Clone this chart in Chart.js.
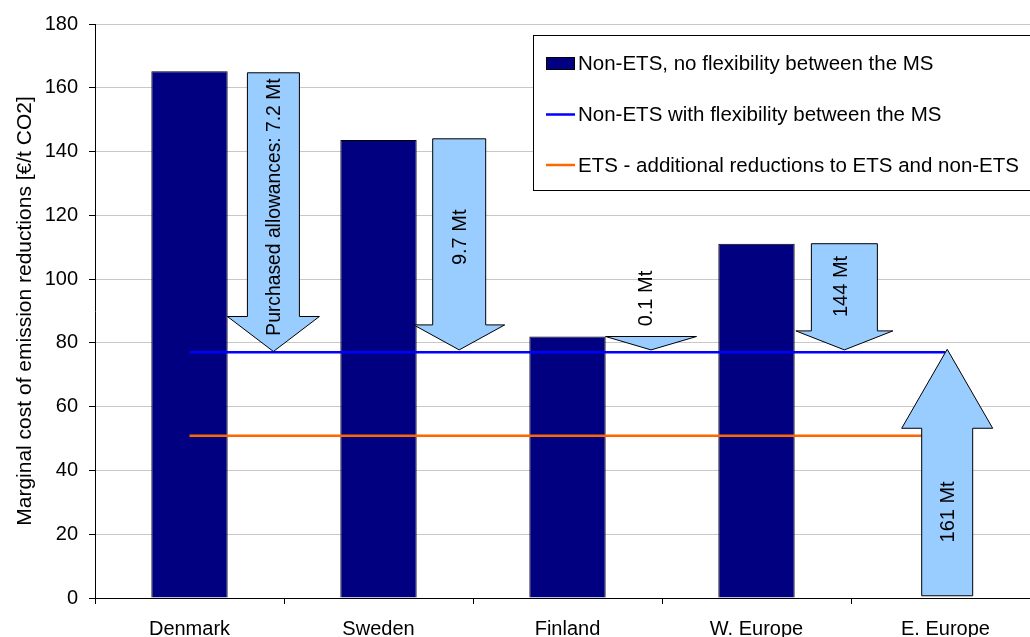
<!DOCTYPE html>
<html>
<head>
<meta charset="utf-8">
<script src="https://cdn.jsdelivr.net/npm/chart.js@4/dist/chart.umd.min.js"></script>
<style>
  html, body { margin: 0; padding: 0; background: #fff; overflow: hidden; }
  #wrap { position: relative; width: 1040px; height: 637px; }
</style>
</head>
<body>
<div id="wrap"><canvas id="c"></canvas></div>
<script>
// ---- data ----
const categories = ['Denmark', 'Sweden', 'Finland', 'W. Europe', 'E. Europe'];
const noFlexValues = [165.2, 143.6, 82.0, 111.1, null];
const flexValues = [77.1, 77.1, 77.1, 77.1, 77.1];
const etsValues = [50.9, 50.9, 50.9, 50.9, 50.9];
const yTicks = [0, 20, 40, 60, 80, 100, 120, 140, 160, 180];
const seriesLabels = [
  'Non-ETS, no flexibility between the MS',
  'Non-ETS with flexibility between the MS',
  'ETS - additional reductions to ETS and non-ETS'
];
// purchased allowances arrows: from value -> to value
const arrowLabels = ['Purchased allowances: 7.2 Mt', '9.7 Mt', '0.1 Mt', '144 Mt', '161 Mt'];
const arrowFrom = [164.7, 144.0, 82.0, 111.1, 0.7];
const arrowTo = [77.3, 77.8, 77.8, 77.8, 78.0];

// ---- layout / style for the arrows (not data) ----
const arrowStyle = {
  catOffset: [0.444, 0.427, 0.442, 0.465, 0.009],
  shaftW: [52, 53, 0, 66, 51],
  headW: [92, 91, 91, 97, 91],
  headL: [35, 25, 13, 19, 79],
  labelAt: [122.6, 113.1, 93.9, 97.7, 27.0],
  labelDx: [1, 1, -5, -3, 1],
  labelSize: [19.3, 20, 20, 20, 20]
};

const FONT = '"Liberation Sans", Arial, sans-serif';

const arrowsPlugin = {
  id: 'arrows',
  afterDatasetsDraw(chart) {
    const ctx = chart.ctx, x = chart.scales.x, y = chart.scales.y;
    const cw = x.getPixelForValue(1) - x.getPixelForValue(0);
    ctx.save();
    for (let i = 0; i < arrowLabels.length; i++) {
      const cx = x.getPixelForValue(i) + arrowStyle.catOffset[i] * cw;
      const y0 = y.getPixelForValue(arrowFrom[i]);
      const yt = y.getPixelForValue(arrowTo[i]);
      const dir = Math.sign(yt - y0);
      const sw = arrowStyle.shaftW[i] / 2, hw = arrowStyle.headW[i] / 2;
      let hb = yt - dir * arrowStyle.headL[i];
      ctx.beginPath();
      if (sw > 0) {
        ctx.moveTo(cx - sw, y0);
        ctx.lineTo(cx + sw, y0);
        ctx.lineTo(cx + sw, hb);
        ctx.lineTo(cx + hw, hb);
        ctx.lineTo(cx, yt);
        ctx.lineTo(cx - hw, hb);
        ctx.lineTo(cx - sw, hb);
      } else {
        hb = y0;
        ctx.moveTo(cx - hw, hb);
        ctx.lineTo(cx + hw, hb);
        ctx.lineTo(cx, yt);
      }
      ctx.closePath();
      ctx.fillStyle = '#99CCFF';
      ctx.fill();
      ctx.lineWidth = 1;
      ctx.strokeStyle = '#000';
      ctx.stroke();
      // label
      ctx.save();
      ctx.translate(cx + arrowStyle.labelDx[i], y.getPixelForValue(arrowStyle.labelAt[i]));
      ctx.rotate(-Math.PI / 2);
      ctx.font = arrowStyle.labelSize[i] + 'px ' + FONT;
      ctx.fillStyle = '#000';
      ctx.textAlign = 'center';
      ctx.textBaseline = 'middle';
      ctx.fillText(arrowLabels[i], 0, 0);
      ctx.restore();
    }
    ctx.restore();
  }
};

const legendPlugin = {
  id: 'boxLegend',
  afterDraw(chart) {
    const ctx = chart.ctx;
    const bx = 533.5, by = 35.5, bw = 1039.5 - 533.5 + 5, bh = 155;
    ctx.save();
    ctx.fillStyle = '#fff';
    ctx.fillRect(bx, by, bw, bh);
    ctx.strokeStyle = '#000';
    ctx.lineWidth = 1;
    ctx.strokeRect(bx, by, bw, bh);
    const rows = [63.5, 114.5, 165];
    ctx.font = '20.5px ' + FONT;
    ctx.textBaseline = 'middle';
    ctx.textAlign = 'left';
    chart.data.datasets.forEach((ds, i) => {
      const ry = rows[i];
      if (ds.type === 'bar') {
        ctx.fillStyle = ds.backgroundColor;
        ctx.fillRect(546.5, ry - 6, 28, 12);
        ctx.strokeStyle = '#000';
        ctx.strokeRect(546.5, ry - 6, 28, 12);
      } else {
        ctx.strokeStyle = ds.borderColor;
        ctx.lineWidth = 2.5;
        ctx.beginPath();
        ctx.moveTo(546, ry);
        ctx.lineTo(575, ry);
        ctx.stroke();
        ctx.lineWidth = 1;
      }
      ctx.fillStyle = '#000';
      ctx.fillText(ds.label, 578, ry + 1);
    });
    ctx.restore();
  }
};

new Chart(document.getElementById('c'), {
  data: {
    labels: categories,
    datasets: [
      {
        type: 'bar', label: seriesLabels[0], data: noFlexValues,
        backgroundColor: '#000080', borderColor: '#000', borderWidth: 1,
        categoryPercentage: 1, barPercentage: 0.404, order: 10
      },
      {
        type: 'line', label: seriesLabels[1], data: flexValues,
        borderColor: '#0000FF', borderWidth: 2.5, pointRadius: 0, order: 2
      },
      {
        type: 'line', label: seriesLabels[2], data: etsValues,
        borderColor: '#FF6600', borderWidth: 2.5, pointRadius: 0, order: 1
      }
    ]
  },
  options: {
    responsive: true,
    maintainAspectRatio: false,
    animation: false,
    layout: { padding: { top: 24, right: 0, left: 0, bottom: 0 } },
    plugins: { legend: { display: false }, tooltip: { enabled: false } },
    scales: {
      x: {
        type: 'category',
        offset: true,
        grid: { offset: true, drawOnChartArea: false, drawTicks: true, tickLength: 6, tickColor: '#000' },
        border: { color: '#000', width: 1 },
        ticks: { color: '#000', font: { family: FONT, size: 20 }, padding: 13, maxRotation: 0, autoSkip: false },
        afterFit(s) { s.height = 39; }
      },
      y: {
        min: 0, max: 180,
        afterBuildTicks(s) { s.ticks = yTicks.map(v => ({ value: v })); },
        grid: { color: '#c8c8c8', lineWidth: 1, tickLength: 6, tickColor: '#000' },
        border: { color: '#000', width: 1 },
        ticks: { color: '#000', font: { family: FONT, size: 20 }, padding: 11 },
        title: {
          display: true,
          text: 'Marginal cost of emission reductions [€/t CO2]',
          color: '#000',
          font: { family: FONT, size: 21 },
          padding: { top: 13, bottom: 0 }
        },
        afterFit(s) { s.width = 95; }
      }
    }
  },
  plugins: [arrowsPlugin, legendPlugin]
});
</script>
</body>
</html>
